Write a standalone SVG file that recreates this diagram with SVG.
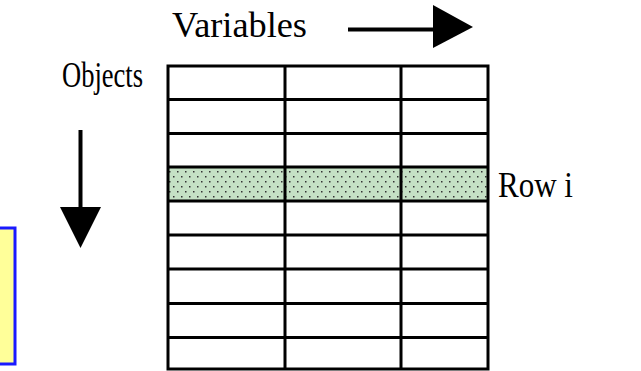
<svg xmlns="http://www.w3.org/2000/svg" width="641" height="371" viewBox="0 0 641 371">
  <style>
    .label { font-family: "Liberation Serif", "Times New Roman", serif; font-size: 35px; fill: #000; }
    .grid { stroke: #000; stroke-width: 3; fill: none; }
  </style>
  <defs>
    <pattern id="dots" width="8" height="10" patternUnits="userSpaceOnUse">
      <rect width="8" height="10" fill="#c5e1c5"/>
      <rect x="1" y="1" width="1.5" height="1.5" fill="#333"/>
      <rect x="5" y="6" width="1.5" height="1.5" fill="#333"/>
    </pattern>
  </defs>

  <rect width="641" height="371" fill="#fff"/>

  <!-- side note box -->
  <g id="note">
    <rect x="-10" y="228" width="25" height="136" fill="#ffff99" stroke="#1a1aff" stroke-width="3"/>
  </g>

  <!-- labels -->
  <g id="variables-label">
    <text class="label" x="172" y="37" textLength="135" lengthAdjust="spacingAndGlyphs">Variables</text>
  </g>
  <g id="objects-label">
    <text class="label" x="62" y="87" textLength="81" lengthAdjust="spacingAndGlyphs">Objects</text>
  </g>
  <g id="row-label">
    <text class="label" x="498" y="197" textLength="75" lengthAdjust="spacingAndGlyphs">Row i</text>
  </g>

  <!-- data table: 3 columns x 9 rows -->
  <g id="table">
    <rect x="168" y="167" width="320" height="34" fill="url(#dots)"/>
    <g class="grid">
      <rect x="168" y="66" width="320" height="303"/>
      <line x1="285" y1="66" x2="285" y2="369"/>
      <line x1="401" y1="66" x2="401" y2="369"/>
      <line x1="168" y1="99.5" x2="488" y2="99.5"/>
      <line x1="168" y1="133.5" x2="488" y2="133.5"/>
      <line x1="168" y1="167" x2="488" y2="167"/>
      <line x1="168" y1="201" x2="488" y2="201"/>
      <line x1="168" y1="235" x2="488" y2="235"/>
      <line x1="168" y1="269" x2="488" y2="269"/>
      <line x1="168" y1="303.5" x2="488" y2="303.5"/>
      <line x1="168" y1="337.5" x2="488" y2="337.5"/>
    </g>
  </g>

  <!-- direction arrows -->
  <g id="connectors">
    <line x1="348" y1="29.5" x2="434" y2="29.5" stroke="#000" stroke-width="4"/>
    <polygon points="433,5 473,27 433,48" fill="#000"/>
    <line x1="80.5" y1="130" x2="80.5" y2="208" stroke="#000" stroke-width="4"/>
    <polygon points="60,207 101,207 80.5,248" fill="#000"/>
  </g>
</svg>
